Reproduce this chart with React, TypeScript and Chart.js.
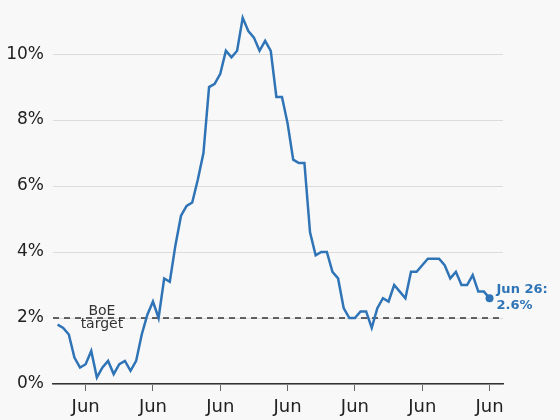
import React, { useEffect, useRef } from 'react';
import { Chart, registerables } from 'chart.js';

Chart.register(...registerables);

// Monthly CPI inflation, Jan 2020 (index 0) to Jun 2026 (index 77)
const cpi2020 = [1.8, 1.7, 1.5, 0.8, 0.5, 0.6, 1.0, 0.2, 0.5, 0.7, 0.3, 0.6];
const cpi2021 = [0.7, 0.4, 0.7, 1.5, 2.1, 2.5, 2.0, 3.2, 3.1, 4.2, 5.1, 5.4];
const cpi2022 = [5.5, 6.2, 7.0, 9.0, 9.1, 9.4, 10.1, 9.9, 10.1, 11.1, 10.7, 10.5];
const cpi2023 = [10.1, 10.4, 10.1, 8.7, 8.7, 7.9, 6.8, 6.7, 6.7, 4.6, 3.9, 4.0];
const cpi2024 = [4.0, 3.4, 3.2, 2.3, 2.0, 2.0, 2.2, 2.2, 1.7, 2.3, 2.6, 2.5];
const cpi2025 = [3.0, 2.8, 2.6, 3.4, 3.4, 3.6, 3.8, 3.8, 3.8, 3.6, 3.2, 3.4];
const cpi2026 = [3.0, 3.0, 3.3, 2.8, 2.8, 2.6];
const cpi = [...cpi2020, ...cpi2021, ...cpi2022, ...cpi2023, ...cpi2024, ...cpi2025, ...cpi2026];

const tickMonths = [5, 17, 29, 41, 53, 65, 77];
const tickMonthLabel = 'Jun';
const tickYears = ['2020', '2021', '2022', '2023', '2024', '2025', '2026'];

const yTicks = [0, 2, 4, 6, 8, 10];
const target = 2;
const targetLabel = ['BoE', 'target'];
const targetLabelMonth = 7.9;
const endLabel = ['Jun 26:', '2.6%'];

const BLUE = '#2f74b6';
const BG = '#f8f8f8';
const FONT = '"DejaVu Sans", sans-serif';

export default function App() {
  const ref = useRef<HTMLCanvasElement | null>(null);

  useEffect(() => {
    if (!ref.current) return;
    const last = cpi.length - 1;

    const annotations = {
      id: 'annotations',
      beforeDatasetsDraw(chart: any) {
        const { ctx, chartArea, scales } = chart;
        const y = scales.y.getPixelForValue(target);
        ctx.save();
        ctx.strokeStyle = '#333';
        ctx.lineWidth = 1.5;
        ctx.setLineDash([6, 5]);
        ctx.beginPath();
        ctx.moveTo(chartArea.left, y);
        ctx.lineTo(chartArea.right, y);
        ctx.stroke();
        ctx.restore();
      },
      afterDatasetsDraw(chart: any) {
        const { ctx, scales } = chart;
        const y2 = scales.y.getPixelForValue(target);
        const xl = scales.x.getPixelForValue(targetLabelMonth);
        ctx.save();
        ctx.fillStyle = '#333';
        ctx.font = `14px ${FONT}`;
        ctx.textAlign = 'center';
        ctx.textBaseline = 'alphabetic';
        ctx.fillText(targetLabel[0], xl, y2 - 3);
        ctx.fillText(targetLabel[1], xl, y2 + 10);

        const xe = scales.x.getPixelForValue(last);
        const ye = scales.y.getPixelForValue(cpi[last]);
        ctx.fillStyle = BLUE;
        ctx.font = `bold 13px ${FONT}`;
        ctx.textAlign = 'left';
        ctx.fillText(endLabel[0], xe + 7, ye - 5);
        ctx.fillText(endLabel[1], xe + 7, ye + 11);
        ctx.restore();
      },
    };

    const chart = new Chart(ref.current, {
      type: 'line',
      data: {
        datasets: [
          {
            data: cpi.map((v, i) => ({ x: i, y: v })),
            borderColor: BLUE,
            backgroundColor: BLUE,
            borderWidth: 2.5,
            tension: 0,
            pointRadius: (c: any) => (c.dataIndex === last ? 4 : 0),
            pointBorderWidth: 0,
            pointHoverRadius: 0,
          },
        ],
      },
      options: {
        responsive: false,
        animation: false,
        events: [],
        layout: { padding: { top: 10, right: 57, left: 0, bottom: 0 } },
        plugins: { legend: { display: false }, tooltip: { enabled: false } },
        scales: {
          x: {
            type: 'linear',
            min: -0.82,
            max: 79.4,
            afterBuildTicks: (s: any) => {
              s.ticks = tickMonths.map((v) => ({ value: v }));
            },
            afterFit: (s: any) => {
              s.height = 36;
            },
            grid: {
              drawOnChartArea: false,
              drawTicks: true,
              tickLength: 7,
              color: '#666',
              tickColor: '#666',
              lineWidth: 1,
            },
            border: { display: true, color: '#333', width: 1.5 },
            ticks: {
              autoSkip: false,
              maxRotation: 0,
              padding: 4.75,
              color: '#222',
              font: { family: FONT, size: 18, lineHeight: 1.25 },
              callback: (v: any) => {
                const i = tickMonths.indexOf(Number(v));
                return [tickMonthLabel, tickYears[i]];
              },
            },
          },
          y: {
            type: 'linear',
            min: 0,
            max: 11.33,
            afterBuildTicks: (s: any) => {
              s.ticks = yTicks.map((v) => ({ value: v }));
            },
            afterFit: (s: any) => {
              s.width = 53;
            },
            grid: { color: '#dcdcdc', lineWidth: 1, drawTicks: true, tickLength: 9, tickColor: 'rgba(0,0,0,0)' },
            border: { display: false },
            ticks: {
              padding: 0,
              color: '#222',
              font: { family: FONT, size: 17 },
              callback: (v: any) => `${v}%`,
            },
          },
        },
      },
      plugins: [annotations],
    } as any);

    return () => chart.destroy();
  }, []);

  return (
    <div style={{ position: 'fixed', left: 0, top: 0, width: 560, height: 420, background: BG, overflow: 'hidden' }}>
      <canvas ref={ref} width={560} height={420} style={{ display: 'block' }} />
    </div>
  );
}
